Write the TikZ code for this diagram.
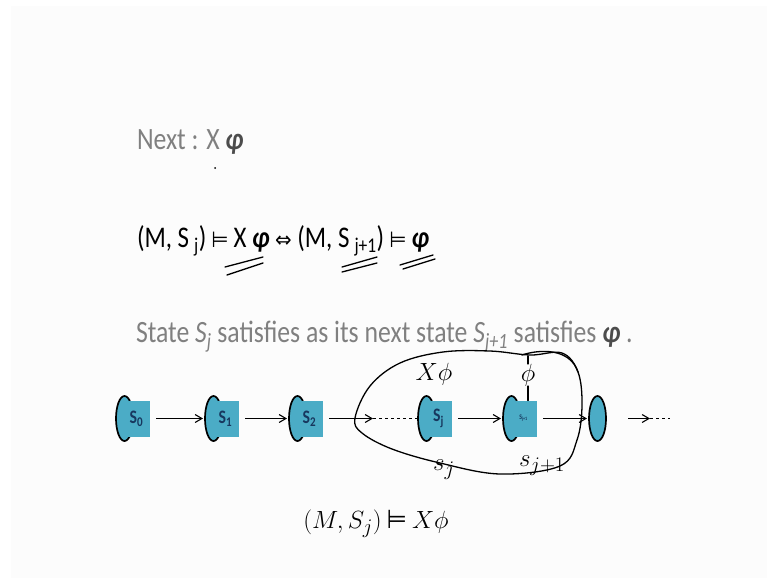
\documentclass[tikz,border=0pt]{standalone}
\usepackage{fontspec}
\setmainfont{Carlito}[FakeStretch=0.83]
\newfontfamily\symfont{DejaVu Sans}[FakeStretch=0.9]
\usetikzlibrary{arrows.meta, positioning, shapes.geometric}
\definecolor{slidegray}{RGB}{128,128,128}
\definecolor{stateteal}{RGB}{75,172,198}
\definecolor{statetext}{RGB}{23,55,94}
\newcommand\bphi{{\bfseries\itshape φ}}
\newcommand\sat{{\symfont\fontsize{22}{22}\selectfont ⊨}}
\newcommand\iffsym{{\symfont\fontsize{22}{22}\selectfont ⇔}}

\begin{document}
\begin{tikzpicture}[x=1pt, y=-1pt,
    >={Straight Barb[length=2.4mm, width=2.8mm]},
    every node/.append style={inner sep=0pt, outer sep=0pt},
    slide/.style={font=\fontsize{31}{36}\selectfont, anchor=base west},
    stell/.style={ellipse, draw, line width=1.7pt, fill=stateteal,
                  minimum width=17pt, minimum height=45pt},
    stsq/.style={rectangle, fill=stateteal, minimum width=27pt,
                 minimum height=36pt, text=statetext,
                 font=\fontsize{19}{19}\selectfont\bfseries},
    trans/.style={->, line width=1.1pt, shorten <=6pt, shorten >=2pt},
    pen/.style={line width=1.3pt, line cap=round, line join=round},
    handtext/.style={font=\fontsize{30}{30}\selectfont},
  ]
  \useasboundingbox (0,0) rectangle (767,578);
  \fill[white] (0,0) rectangle (767,578);
  \fill[black!1] (11,6) rectangle (767,578);

  % slide text
  \node[slide, text=slidegray] (next) at (137,149) {Next : X {\color{black!70}\bphi}};
  \fill (215,168) circle (1pt);
  \node[slide, font=\fontsize{30}{36}\selectfont] (sem) at (137,247)
    {(M, S\,\textsubscript{j})\,\sat\,X \bphi\ \iffsym\ (M, S\,\textsubscript{j+1})\,\sat\,\bphi};
  \node[slide, text=slidegray] (desc) at (136,342)
    {State \textit{S\textsubscript{j}} satisfies as its next state \textit{S\textsubscript{j+1}} satisfies {\color{black!70}\bphi} .};

  % states
  \node[stell] (s0e) at (124.5,418.5) {};
  \node[stsq, right=-1.5pt of s0e.center] (s0) {S\textsubscript{0}};
  \node[stell] (s1e) at (213.5,418.5) {};
  \node[stsq, right=-1.5pt of s1e.center] (s1) {S\textsubscript{1}};
  \node[stell] (s2e) at (297.5,418.5) {};
  \node[stsq, right=-1.5pt of s2e.center] (s2) {S\textsubscript{2}};
  \node[stell] (sje) at (426.5,418.5) {};
  \node[stsq, right=-1.5pt of sje.center] (sj) {S\textsubscript{j}};
  \node[stell] (sjje) at (511.5,418.5) {};
  \node[stsq, right=-1.5pt of sjje.center, font=\fontsize{7}{7}\selectfont\bfseries] (sjj) {S\textsubscript{j+1}};
  \node[stell] (snext) at (597.5,418.5) {};

  \coordinate (dots) at (373,418.5);
  \coordinate (t0) at (628,418.5);
  \coordinate (t1) at (650,418.5);
  \coordinate (t2) at (670,418.5);

  \draw[trans] (s0) -- (s0e -| s1e.west);
  \draw[trans] (s1) -- (s1e -| s2e.west);
  \draw[trans, shorten >=0pt] (s2) -- (dots);
  \draw[line width=1.1pt, dashed] (dots) -- (sje.west);
  \draw[trans] (sj) -- (sje -| sjje.west);
  \draw[trans] (sjj) -- (snext.west);
  \draw[->, line width=1.1pt] (t0) -- (t1);
  \draw[line width=1.1pt, dashed] (t1) -- (t2);

  % pen annotations
  \draw[pen] plot[smooth cycle, tension=0.6] coordinates {
    (355,418) (370,386) (400,363) (443,352) (490,351) (530,355)
    (562,353) (578,372) (582,405) (577,440) (560,466) (500,474)
    (440,463) (392,449) (362,433)};
  \draw[pen] (522,355) .. controls (540,349) and (570,348) .. (578,372);
  \node[handtext] (xphi) at (434,374) {$X\phi$};
  \node[handtext] (phi) at (528,375) {$\phi$};
  \draw[pen] (528,356) -- (phi.north);
  \draw[pen] (phi.south) -- (sjj.north -| phi.south);
  \node[handtext] (lsj) at (444,470) {$s_j$};
  \node[handtext] (lsjj) at (542,466) {$s_{j+1}$};
  \node[handtext] (claim) at (376,524)
    {$(M, S_j)$\,{\symfont\fontsize{26}{26}\selectfont ⊨}\,$X\phi$};

  \draw[pen] (225,267) -- (263,257);
  \draw[pen] (227,275) -- (263,263);
  \draw[pen] (342,267) -- (377,257);
  \draw[pen] (342,272) -- (377,263);
  \draw[pen] (400,265) -- (433,255);
  \draw[pen] (403,269) -- (435,259);
\end{tikzpicture}
\end{document}
